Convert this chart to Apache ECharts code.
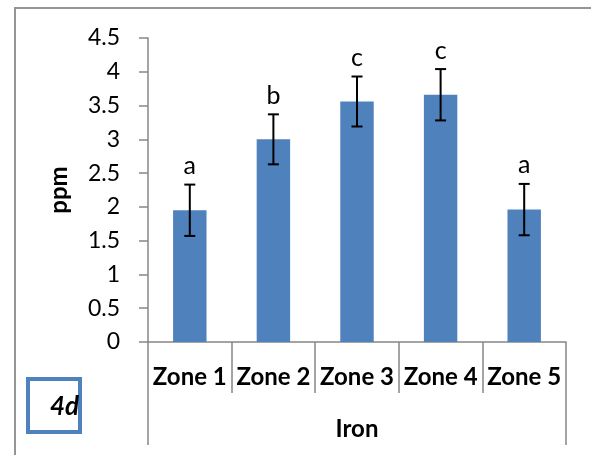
<!DOCTYPE html>
<html>
<head>
<meta charset="utf-8">
<script src="https://cdn.jsdelivr.net/npm/echarts@6/dist/echarts.min.js"></script>
<style>html,body{margin:0;padding:0;background:#fff}#c{width:591px;height:455px}</style>
</head>
<body>
<div id="c"></div>
<script>
const categories = ['Zone 1', 'Zone 2', 'Zone 3', 'Zone 4', 'Zone 5'];
const values = [1.95, 3.0, 3.56, 3.66, 1.96];
const errors = [0.38, 0.37, 0.37, 0.38, 0.38];
const letters = ['a', 'b', 'c', 'c', 'a'];
const groupLabel = ['Iron'];
const yTicks = { min: 0, max: 4.5, interval: 0.5 };

const FONT = 'Lato';
const AX = '#868686';
const chart = echarts.init(document.getElementById('c'), null, { renderer: 'canvas' });
chart.setOption({
  animation: false,
  backgroundColor: '#fff',
  grid: { left: 148, right: 25, top: 38, bottom: 113, containLabel: false },
  xAxis: [
    {
      type: 'category', data: categories, position: 'bottom',
      axisLine: { show: true, lineStyle: { color: AX, width: 1.5 } },
      axisTick: { show: true, interval: 0, length: 51, lineStyle: { color: AX, width: 1.5 } },
      axisLabel: { interval: 0, margin: 23, fontFamily: FONT, fontSize: 24, fontWeight: 'bold', color: '#000' }
    },
    {
      type: 'category', data: groupLabel, position: 'bottom',
      axisLine: { show: false },
      axisTick: { show: true, length: 103, lineStyle: { color: AX, width: 1.5 } },
      axisLabel: { margin: 75, fontFamily: FONT, fontSize: 24, fontWeight: 'bold', color: '#000' }
    }
  ],
  yAxis: {
    type: 'value', min: yTicks.min, max: yTicks.max, interval: yTicks.interval,
    name: 'ppm', nameLocation: 'middle', nameRotate: 90, nameGap: 77,
    nameTextStyle: { fontFamily: FONT, fontSize: 24, fontWeight: 'bold', color: '#000' },
    axisLine: { show: true, lineStyle: { color: AX, width: 1.5 } },
    axisTick: { show: true, length: 9, lineStyle: { color: AX, width: 1.5 } },
    axisLabel: { margin: 28, fontFamily: FONT, fontSize: 23, color: '#000' },
    splitLine: { show: false }
  },
  series: [
    {
      type: 'bar', xAxisIndex: 0, data: values, barWidth: '40%',
      itemStyle: { color: '#4F81BD' }
    },
    {
      type: 'custom', xAxisIndex: 0, z: 5,
      data: values.map((v, i) => [i, v, errors[i]]),
      renderItem: function (params, api) {
        const i = api.value(0), v = api.value(1), e = api.value(2);
        const top = api.coord([i, v + e]);
        const bot = api.coord([i, v - e]);
        const cw = 5.5;
        const ls = { stroke: '#000', lineWidth: 2 };
        return {
          type: 'group',
          children: [
            { type: 'line', shape: { x1: top[0], y1: top[1], x2: bot[0], y2: bot[1] }, style: ls },
            { type: 'line', shape: { x1: top[0] - cw, y1: top[1], x2: top[0] + cw, y2: top[1] }, style: ls },
            { type: 'line', shape: { x1: bot[0] - cw, y1: bot[1], x2: bot[0] + cw, y2: bot[1] }, style: ls },
            { type: 'text', x: top[0], y: top[1] - 6,
              style: { text: letters[params.dataIndex], align: 'center', verticalAlign: 'bottom',
                       fontFamily: FONT, fontSize: 25, fill: '#000' } }
          ]
        };
      }
    }
  ],
  graphic: [
    { type: 'rect', shape: { x: 15, y: 8, width: 700, height: 600 },
      style: { fill: 'none', stroke: '#959595', lineWidth: 2 }, silent: true },
    { type: 'rect', shape: { x: 28, y: 379, width: 52, height: 53 },
      style: { fill: '#fff', stroke: '#4F81BD', lineWidth: 4 }, silent: true },
    { type: 'text', x: 79, y: 407,
      style: { text: '4d', align: 'right', verticalAlign: 'middle', fontFamily: FONT,
               fontSize: 26, fontWeight: 'bold', fontStyle: 'italic', fill: '#000' } }
  ]
});
</script>
</body>
</html>
